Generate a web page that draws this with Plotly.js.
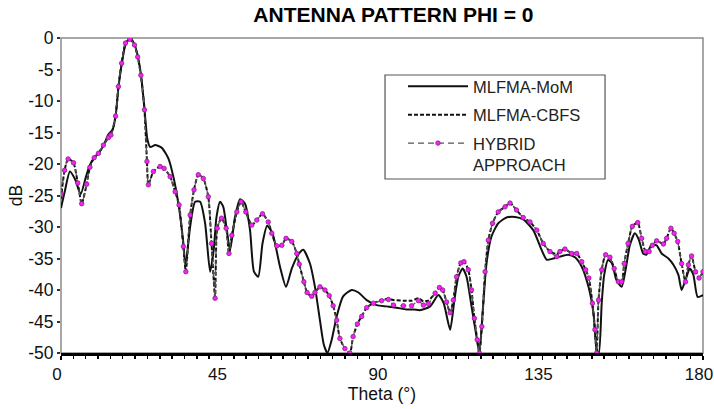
<!DOCTYPE html>
<html>
<head>
<meta charset="utf-8">
<script src="https://cdn.plot.ly/plotly-3.0.1.min.js"></script>
<style>html,body{margin:0;padding:0;background:#fff;}#chart{width:714px;height:409px;}</style>
</head>
<body>
<div id="chart"></div>
<script>
// ---- data (theta in degrees, values in dB) ----
const momTheta = [0,1,2.5,4,5.5,7,8,9.3,10.5,12,13.3,14.5,15.3,16.1,17,18.1,19.4,20.6,21.5,22.4,23.4,24.2,25,26.4,28.2,30.1,31.5,32.9,34.3,34.9,36.2,37.6,39.0,40.4,41.8,42.8,43.6,44.6,45.5,46.5,47.4,48.8,50.2,51.6,53.0,54.1,55.3,56.5,57.8,59.3,61.4,63.1,64.7,66.5,67.9,69.8,71.2,72.6,73.7,74.7,75.9,77.3,79.1,81.5,83.4,85.7,88.5,91.3,94.1,96.9,99,100.6,103.5,105.8,107.3,109.1,110.3,111.4,112.6,113.7,115.1,116.5,117.3,118.2,119.3,120.7,122.6,124.9,127.3,129.6,132.4,134.8,136.2,138.0,139.9,142.2,144.1,146,147.9,149.3,150.2,150.8,151.6,152.3,153.4,154.5,155.7,157.2,158.3,159.5,160.9,162,163.2,164.1,165.5,167.0,168.4,170.3,171.7,173.1,174.0,175.1,176.3,177.3,178.5,180];
const momDb = [-27,-24.5,-21.2,-22.5,-24.8,-22,-20.3,-19,-18.3,-17,-15.3,-14.5,-12.4,-7.9,-4.2,-1.0,0,-1.0,-2.8,-5.7,-11.2,-16.0,-17.3,-17.0,-17.4,-19.1,-22.0,-26.2,-32.5,-36.3,-30,-26.0,-26.0,-29.4,-37.1,-33.7,-28.4,-26.0,-26.8,-30.5,-33.7,-28.4,-25.6,-26.3,-30.5,-37.1,-37.9,-32.6,-29.8,-31,-36.3,-39.5,-36.6,-34.4,-33.6,-35.8,-39.5,-44.8,-48.7,-50,-47.9,-44.2,-41.0,-40.0,-40.4,-41.6,-42.4,-42.6,-42.8,-43.1,-43.1,-43.2,-42.6,-40.8,-42.1,-46.3,-41.6,-37.9,-36.6,-37.9,-42.6,-47.4,-50,-43.7,-35.8,-31.5,-29.4,-28.5,-28.4,-28.8,-30.5,-33.7,-35.2,-35.0,-34.7,-34.4,-34.8,-36.3,-39.5,-43.7,-49.5,-50,-42.1,-37.6,-35.2,-35.8,-38.4,-39.5,-36.8,-32.9,-31.0,-32.0,-34.2,-34.4,-32.9,-32.9,-34.2,-35.0,-36.0,-37.6,-40.0,-38.4,-36.6,-37.6,-41.1,-40.8];

const cbfsTheta = [0,1,2,3.5,4.7,5.8,7.2,8.1,9.3,10.5,11.9,13.3,14,15.3,16.1,17,18.1,19.3,20.6,21.5,22.4,23.4,24.1,24.5,25.9,27.8,28.9,30.6,32,33.1,34.3,35.0,36.2,37.3,38.5,39.9,41.3,42.2,43.2,43.8,45.0,46.3,47.1,47.9,49.3,50.5,51.8,53.5,54.9,56.5,58.1,59.1,60.5,61.9,63.1,64.7,66.1,66.8,68.1,69.0,70.3,71.2,72.6,74.0,75.2,76.3,77.3,78.2,79.6,81.0,81.9,83.1,84.3,85.7,87.6,89.9,91.8,93.2,96.0,98.3,100.2,101.6,103.0,104.9,106.1,107.0,108.1,109.1,110.0,110.9,112.1,113,114.2,115.1,115.9,116.7,117.3,118.0,118.9,119.8,121.0,122.6,124.5,125.9,127.7,129.6,131.5,133.4,135.2,137.1,139.0,139.9,141.3,143.2,144.6,146.0,147.1,148.0,149.0,149.7,150.2,150.7,151.6,152.7,153.9,155.1,156.3,157.2,157.9,159.0,160.2,161.7,162.8,163.9,164.9,165.8,167.0,168.9,169.8,171.0,171.9,172.9,174.0,175.1,175.9,176.8,177.9,178.9,180];
const cbfsDb = [-25.5,-21,-19.2,-19.8,-23,-26.3,-23.2,-20.5,-19.0,-18.3,-17.0,-15.8,-15.4,-12.4,-7.7,-4.0,-0.8,-0.2,-1.1,-3.0,-5.9,-11.4,-19.6,-23.3,-21.2,-20.4,-20.7,-22.0,-24.4,-26.5,-33.1,-37.1,-28.1,-24.1,-21.7,-22.3,-25.2,-32.6,-41.1,-30.2,-28.6,-30.2,-34.2,-31.3,-27.6,-26.0,-27.6,-29.7,-28.9,-27.9,-29.2,-31.0,-33.0,-32.9,-31.8,-32.3,-34.2,-35.9,-38.7,-40.4,-41.0,-40.4,-39.5,-40.0,-40.9,-42.5,-44.8,-47.7,-49.3,-50,-47.4,-45.4,-44.2,-42.8,-42.1,-41.6,-41.4,-41.6,-41.7,-41.7,-41.3,-41.8,-41.7,-40.5,-39.6,-40.0,-41.9,-43.6,-41.6,-37.9,-35.7,-35.5,-36.8,-40.0,-44.5,-47.9,-50,-45.8,-37.1,-32.1,-29.4,-27.6,-26.8,-26.2,-27.3,-28.5,-29.2,-30.5,-32.6,-33.9,-34.3,-33.9,-33.5,-34.2,-34.2,-35.5,-36.8,-38.1,-42.1,-46.3,-50,-41.6,-36.8,-34.4,-34.8,-36.6,-38.7,-38.7,-35.8,-32.6,-29.9,-29.3,-31.8,-33.9,-33.9,-32.9,-32.2,-32.7,-31.8,-30.2,-31.0,-32.3,-35.8,-38.7,-36.0,-34.6,-37.1,-38.1,-37.1];

const hybridTheta = cbfsTheta;
const hybridDb = [-24.8,-21,-19.2,-19.8,-23,-26.3,-23.2,-20.5,-19.0,-18.3,-17.0,-15.8,-15.4,-12.4,-7.7,-4.0,-0.8,-0.2,-1.1,-3.0,-5.9,-11.4,-19.6,-23.3,-21.2,-20.4,-20.7,-22.0,-24.4,-26.5,-33.1,-37.1,-28.1,-24.1,-21.7,-22.3,-25.2,-32.6,-41.3,-30.2,-28.6,-30.2,-34.2,-31.3,-27.6,-26.0,-27.6,-29.7,-28.9,-27.9,-29.2,-31.0,-33.0,-32.9,-31.8,-32.3,-34.2,-35.9,-38.7,-40.4,-41.0,-40.4,-39.5,-40.0,-40.9,-42.5,-44.8,-47.7,-49.3,-50,-47.4,-45.4,-44.2,-42.8,-42.1,-41.7,-41.5,-42.4,-42.5,-42.5,-41.7,-42.4,-42.2,-40.5,-39.6,-40.0,-41.9,-43.6,-41.6,-37.9,-35.7,-35.5,-36.8,-40.0,-44.5,-47.9,-50,-45.8,-37.1,-32.1,-29.4,-27.6,-26.8,-26.2,-27.3,-28.5,-29.2,-30.5,-32.6,-33.9,-34.7,-33.9,-33.5,-34.2,-34.2,-35.5,-36.8,-38.1,-42.1,-46.3,-50,-41.6,-36.8,-34.4,-34.8,-36.6,-38.7,-38.7,-35.8,-32.6,-29.9,-29.3,-31.8,-33.9,-33.9,-32.9,-32.2,-32.7,-31.8,-30.2,-31.0,-32.3,-35.8,-38.7,-36.0,-34.6,-37.1,-38.1,-37.1];

const seriesNames = ['MLFMA-MoM','MLFMA-CBFS','HYBRID<br>APPROACH'];
const xTickVals = [0,45,90,135,180];
const xTickText = ['0','45','90','135','180'];
const yTickVals = [-50,-45,-40,-35,-30,-25,-20,-15,-10,-5,0];
const yTickText = ['-50','-45','-40','-35','-30','-25','-20','-15','-10','-5','0'];

const FONT = 'Liberation Sans, Arial, sans-serif';

const traces = [
  {x: momTheta, y: momDb, name: seriesNames[0], mode: 'lines', legendgroup: 'a',
   line: {color: '#111', width: 2, shape: 'spline', smoothing: 0.6}},
  {x: cbfsTheta, y: cbfsDb, name: seriesNames[1], mode: 'lines', legendgroup: 'b',
   line: {color: '#111', width: 2, dash: '4px,2px', shape: 'spline', smoothing: 0.6}},
  {x: hybridTheta, y: hybridDb, name: seriesNames[2], mode: 'lines+markers', legendgroup: 'c',
   line: {color: '#555', width: 1.2, dash: '6px,4px', shape: 'spline', smoothing: 0.6},
   marker: {symbol: 'circle', size: 4.5, color: '#ff1aff', line: {color: '#7a2a7a', width: 0.8}}}
];

const layout = {
  width: 714, height: 409,
  margin: {l: 61, r: 11, t: 38, b: 56},
  paper_bgcolor: '#fff', plot_bgcolor: '#fff',
  font: {family: FONT, color: '#111', size: 17},
  title: {text: '<b>ANTENNA PATTERN PHI = 0</b>', x: 0.551, xanchor: 'center', y: 0.9645, yanchor: 'middle', yref: 'container',
          font: {family: FONT, size: 21, color: '#000'}},
  showlegend: true,
  legend: {x: 0.5327, xanchor: 'left', y: 0.9016, yanchor: 'top', bgcolor: 'rgba(0,0,0,0)', borderwidth: 0,
           font: {family: FONT, size: 16.5, color: '#222'}, itemwidth: 60, traceorder: 'grouped', tracegroupgap: 4, valign: 'top'},
  xaxis: {range: [0, 180], tickvals: xTickVals, ticktext: xTickText, ticks: 'outside', ticklen: 4, tickwidth: 1.5, tickcolor: '#000',
          ticklabelshift: -4, ticklabeloverflow: 'allow',
          showline: true, linecolor: '#000', linewidth: 3, showgrid: false, zeroline: false,
          minor: {dtick: 45/13, tick0: 0, ticks: 'outside', ticklen: 3, tickwidth: 1.5, tickcolor: '#000', showgrid: false},
          tickfont: {family: FONT, size: 17, color: '#111'},
          title: {text: 'Theta (°)', font: {family: FONT, size: 17.5, color: '#111'}, standoff: 4}},
  yaxis: {range: [-50, 0], tickvals: yTickVals, ticktext: yTickText, ticks: 'outside', ticklen: 3, tickwidth: 2, tickcolor: '#333',
          showline: false, showgrid: false, zeroline: false,
          tickfont: {family: FONT, size: 17.5, color: '#111'},
          title: {text: 'dB', font: {family: FONT, size: 17.5, color: '#111'}, standoff: 1}},
  shapes: [
    {type: 'rect', xref: 'paper', yref: 'paper', x0: 0, x1: 1, y0: 0, y1: 1, layer: 'below',
     line: {color: '#8a8a8a', width: 1.5}},
    {type: 'rect', xref: 'paper', yref: 'paper', x0: 0.5047, x1: 0.8474, y0: 0.5524, y1: 0.8825, layer: 'above',
     line: {color: '#555', width: 1.2}}
  ]
};

Plotly.newPlot('chart', traces, layout, {displayModeBar: false, staticPlot: true});
</script>
</body>
</html>
